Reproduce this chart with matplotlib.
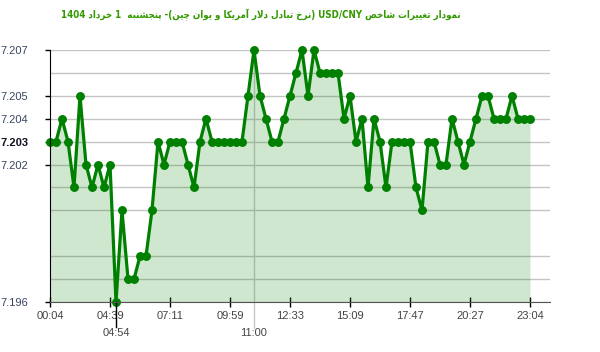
import re
import numpy as np
import matplotlib
matplotlib.use('Agg')
import matplotlib.pyplot as plt
from matplotlib.transforms import blended_transform_factory

# ---------------- data ----------------
values = [7.203, 7.203, 7.204, 7.203, 7.201, 7.205, 7.202, 7.201, 7.202, 7.201,
          7.202, 7.196, 7.200, 7.197, 7.197, 7.198, 7.198, 7.200, 7.203, 7.202,
          7.203, 7.203, 7.203, 7.202, 7.201, 7.203, 7.204, 7.203, 7.203, 7.203,
          7.203, 7.203, 7.203, 7.205, 7.207, 7.205, 7.204, 7.203, 7.203, 7.204,
          7.205, 7.206, 7.207, 7.205, 7.207, 7.206, 7.206, 7.206, 7.206, 7.204,
          7.205, 7.203, 7.204, 7.201, 7.204, 7.203, 7.201, 7.203, 7.203, 7.203,
          7.203, 7.201, 7.200, 7.203, 7.203, 7.202, 7.202, 7.204, 7.203, 7.202,
          7.203, 7.204, 7.205, 7.205, 7.204, 7.204, 7.204, 7.205, 7.204, 7.204,
          7.204]
tick_idx = [0, 10, 20, 30, 40, 50, 60, 70, 80]
tick_labels = ['00:04', '04:39', '07:11', '09:59', '12:33', '15:09', '17:47', '20:27', '23:04']
min_label = '04:54'
max_label = '11:00'
grid_levels = [7.196, 7.197, 7.198, 7.200, 7.201, 7.202, 7.203, 7.204, 7.205, 7.206, 7.207]
ytick_levels = [7.196, 7.202, 7.203, 7.204, 7.205, 7.207]
bold_level = 7.203
title = 'نمودار تغییرات شاخص USD/CNY (نرخ تبادل دلار آمریکا و یوان چین)- پنجشنبه  1 خرداد 1404'

# ------------- simple Arabic/Persian shaping + RTL ordering -------------
FORMS = {
    'ا': (0xFE8D, 0xFE8E, None, None), 'آ': (0xFE81, 0xFE82, None, None),
    'ب': (0xFE8F, 0xFE90, 0xFE91, 0xFE92), 'پ': (0xFB56, 0xFB57, 0xFB58, 0xFB59),
    'ت': (0xFE95, 0xFE96, 0xFE97, 0xFE98), 'ث': (0xFE99, 0xFE9A, 0xFE9B, 0xFE9C),
    'ج': (0xFE9D, 0xFE9E, 0xFE9F, 0xFEA0), 'چ': (0xFB7A, 0xFB7B, 0xFB7C, 0xFB7D),
    'ح': (0xFEA1, 0xFEA2, 0xFEA3, 0xFEA4), 'خ': (0xFEA5, 0xFEA6, 0xFEA7, 0xFEA8),
    'د': (0xFEA9, 0xFEAA, None, None), 'ذ': (0xFEAB, 0xFEAC, None, None),
    'ر': (0xFEAD, 0xFEAE, None, None), 'ز': (0xFEAF, 0xFEB0, None, None),
    'س': (0xFEB1, 0xFEB2, 0xFEB3, 0xFEB4), 'ش': (0xFEB5, 0xFEB6, 0xFEB7, 0xFEB8),
    'ص': (0xFEB9, 0xFEBA, 0xFEBB, 0xFEBC), 'ع': (0xFEC9, 0xFECA, 0xFECB, 0xFECC),
    'غ': (0xFECD, 0xFECE, 0xFECF, 0xFED0), 'ف': (0xFED1, 0xFED2, 0xFED3, 0xFED4),
    'ق': (0xFED5, 0xFED6, 0xFED7, 0xFED8), 'ک': (0xFB8E, 0xFB8F, 0xFB90, 0xFB91),
    'گ': (0xFB92, 0xFB93, 0xFB94, 0xFB95), 'ل': (0xFEDD, 0xFEDE, 0xFEDF, 0xFEE0),
    'م': (0xFEE1, 0xFEE2, 0xFEE3, 0xFEE4), 'ن': (0xFEE5, 0xFEE6, 0xFEE7, 0xFEE8),
    'و': (0xFEED, 0xFEEE, None, None), 'ه': (0xFEE9, 0xFEEA, 0xFEEB, 0xFEEC),
    'ی': (0xFBFC, 0xFBFD, 0xFBFE, 0xFBFF),
    'LA': (0xFEFB, 0xFEFC, None, None),
}


def shape_run(run):
    toks = []
    i = 0
    while i < len(run):
        if run[i] == 'ل' and i + 1 < len(run) and run[i + 1] == 'ا':
            toks.append('LA')
            i += 2
        else:
            toks.append(run[i])
            i += 1
    out = []
    for k, t in enumerate(toks):
        iso, fin, ini, med = FORMS[t]
        jp = k > 0 and FORMS[toks[k - 1]][2] is not None
        jn = ini is not None and k + 1 < len(toks)
        if jp and jn:
            cp = med
        elif jp:
            cp = fin
        elif jn:
            cp = ini
        else:
            cp = iso
        out.append(chr(cp))
    return ''.join(out)   # logical order


def rtl_visual(text):
    res, run = [], ''
    for ch in text:
        if ch in FORMS:
            run += ch
        else:
            if run:
                res.append(shape_run(run))
                run = ''
            res.append(ch)
    if run:
        res.append(shape_run(run))
    logical = ''.join(res)
    vis = logical[::-1]
    vis = re.sub(r'[A-Za-z0-9/]+', lambda m: m.group(0)[::-1], vis)
    vis = vis.translate(str.maketrans('()', ')('))
    return vis


# ---------------- figure ----------------
W, H = 600, 352
fig = plt.figure(figsize=(W / 100, H / 100), dpi=100)
ax = fig.add_axes([50 / W, 50 / H, 500 / W, 252 / H])
x = np.arange(len(values))
ax.set_xlim(0, (len(values) - 1) * 500 / 480)
ax.set_ylim(min(grid_levels), max(grid_levels))

for g in grid_levels:
    ax.axhline(g, color='#c4c4c4', lw=1, zorder=1)

i_min = int(np.argmin(values))
i_max = int(np.argmax(values))
bt = blended_transform_factory(ax.transData, ax.transAxes)
ax.plot([i_max, i_max], [1, -26 / 252], transform=bt, color='#c8c8c8', lw=1,
        clip_on=False, zorder=1)
ax.plot([i_min, i_min], [0, -25 / 252], transform=bt, color='black', lw=1,
        clip_on=False, zorder=4)

ax.fill_between(x, values, min(grid_levels), color='green', alpha=0.19, lw=0, zorder=2)
ax.plot(x, values, color='#008000', lw=2.3, marker='o', ms=5.4, zorder=3,
        clip_on=False, solid_joinstyle='round')

for s in ['top', 'right']:
    ax.spines[s].set_visible(False)
ax.spines['left'].set_color('black')
ax.spines['bottom'].set_color('#555555')
ax.spines['left'].set_zorder(5)
ax.spines['bottom'].set_zorder(5)

tick_font = 'Liberation Sans'
ax.set_yticks(ytick_levels)
ax.set_yticklabels(['%.3f' % v for v in ytick_levels], fontfamily=tick_font)
ax.tick_params(axis='y', length=3.6, width=1, color='black', pad=12,
               labelsize=8, labelcolor='#3a4560')
for lab, v in zip(ax.get_yticklabels(), ytick_levels):
    if abs(v - bold_level) < 1e-9:
        lab.set_fontweight('bold')
        lab.set_color('#111122')

ax.set_xticks(tick_idx)
ax.set_xticklabels(tick_labels, fontfamily=tick_font)
ax.tick_params(axis='x', direction='inout', length=7.2, width=1, color='black',
               pad=3, labelsize=8, labelcolor='#444444')

ax.text(i_min, -31 / 252, min_label, transform=bt, ha='center', va='center',
        fontsize=8, color='#444444', fontfamily=tick_font)
ax.text(i_max, -31 / 252, max_label, transform=bt, ha='center', va='center',
        fontsize=8, color='#444444', fontfamily=tick_font)

fig.text(261 / W, 1 - 15 / H, rtl_visual(title), ha='center', va='center', fontsize=7,
         fontweight='bold', fontstretch='condensed', color='#339900',
         family=['DejaVu Sans'])

fig.savefig('out.png', dpi=100)
